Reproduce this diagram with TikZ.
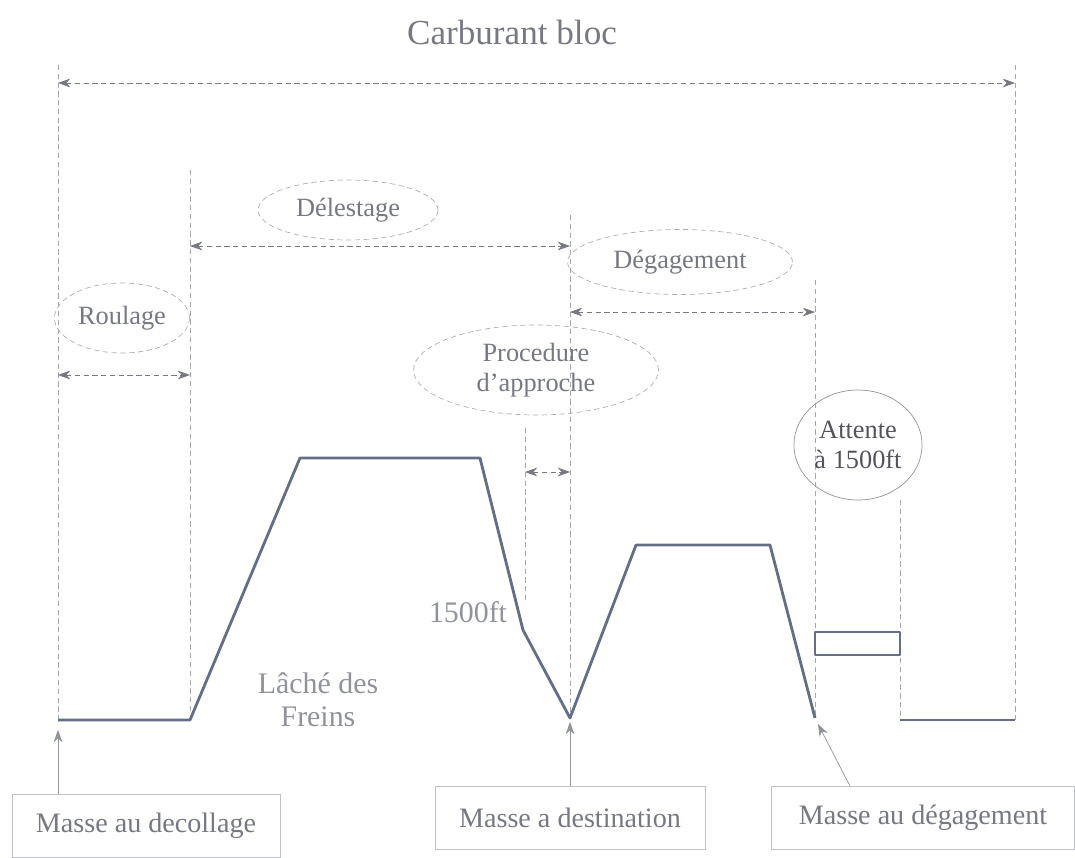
\documentclass[tikz,border=0pt]{standalone}
\usepackage{fontspec}
\setmainfont{Liberation Serif}
\usetikzlibrary{arrows.meta,shapes.geometric,positioning,calc}
\definecolor{inkgray}{RGB}{118,120,130}
\definecolor{profil}{RGB}{100,110,132}
\tikzset{
	guide/.style={draw=inkgray!65, thin, densely dashed},
	span/.style={draw=inkgray, thin, densely dashed,
		{Stealth[length=7pt,width=5pt]}-{Stealth[length=7pt,width=5pt]}},
	pointer/.style={draw=inkgray!80, thin, -{Stealth[length=7pt,width=5pt]}},
	phase/.style={ellipse, draw=inkgray!60, densely dashed, text=inkgray,
		font=\fontsize{15}{17}\selectfont, inner sep=1pt, align=center},
	masse/.style={draw=inkgray!45, text=inkgray, font=\fontsize{16}{18}\selectfont,
		minimum height=1.26cm, inner sep=2pt},
	note/.style={text=inkgray!80, font=\fontsize{17}{19}\selectfont, align=center},
	profile/.style={draw=profil, line width=1.6pt, line join=round},
}
\begin{document}
\begin{tikzpicture}[x=0.02cm, y=-0.02cm]
	\useasboundingbox (0,0) rectangle (1075,858);
	% limites verticales
	\coordinate (bloc L) at (58,65);    \coordinate (bloc R) at (1015,65);
	\coordinate (lache T) at (190,170); \coordinate (dest T) at (570,215);
	\coordinate (degag T) at (815,280); \coordinate (appr T) at (525,428);
	\coordinate (att T) at (900,500);
	% profil de vol
	\coordinate (p0) at (58,720);  \coordinate (p1) at (190,720);
	\coordinate (p2) at (300,458); \coordinate (p3) at (480,458);
	\coordinate (p4) at (523,630); \coordinate (p5) at (570,718);
	\coordinate (p6) at (636,545); \coordinate (p7) at (770,545);
	\coordinate (p8) at (815,718); \coordinate (p9) at (900,720);
	\coordinate (p10) at (1015,720);

	\draw[guide] (bloc L) -- (p0);
	\draw[guide] (bloc R) -- (p10);
	\draw[guide] (lache T) -- (p1);
	\draw[guide] (dest T) -- (p5);
	\draw[guide] (degag T) -- (p8);
	\draw[guide] (appr T) -- (525,600);
	\draw[guide] (att T) -- (p9);

	\node[text=inkgray, font=\fontsize{20}{22}\selectfont] (titre) at (512,32) {Carburant bloc};
	\draw[span] ($(bloc L)+(0,18)$) -- ($(bloc R)+(0,18)$);

	\node[phase, minimum width=3.6cm, minimum height=1.2cm] (delest) at (348,210) {Délestage};
	\draw[span] (190,246) -- (570,246);
	\node[phase, minimum width=4.5cm, minimum height=1.3cm] (degag) at (680,262) {Dégagement};
	\draw[span] (570,312) -- (815,312);
	\node[phase, minimum width=2.7cm, minimum height=1.4cm] (roul) at (122,318) {Roulage};
	\draw[span] (58,375) -- (190,375);
	\node[phase, minimum width=4.9cm, minimum height=1.8cm] (appr) at (536,370) {Procedure\\d'approche};
	\draw[span] (525,472) -- (570,472);
	\node[phase, solid, draw=inkgray!80, text=inkgray!70!black, minimum width=2.1cm, minimum height=2.2cm] (att) at (858,445) {Attente\\à 1500ft};

	\draw[profile] (p0) -- (p1) -- (p2) -- (p3) -- (p4) -- (p5) -- (p6) -- (p7) -- (p8);
	\draw[profile, line width=1.2pt] (815,632) rectangle (900,655);
	\draw[profile] (p9) -- (p10);

	\node[note] (lache) at (318,700) {Lâché des\\Freins};
	\node[note] (ft) at (468,612) {1500ft};

	\node[masse, minimum width=5.36cm] (m dec) at (146,826) {Masse au decollage};
	\node[masse, minimum width=5.4cm] (m dest) at (570,818) {Masse a destination};
	\node[masse, minimum width=6.06cm] (m deg) at (923,818) {Masse au dégagement};
	\draw[pointer] (m dec.north -| p0) -- ($(p0)+(0,10)$);
	\draw[pointer] (m dest.north) -- ($(p5)+(0,4)$);
	\draw[pointer] ($(m deg.north)+(-73,0)$) -- ($(p8)+(3,6)$);
\end{tikzpicture}
\end{document}
